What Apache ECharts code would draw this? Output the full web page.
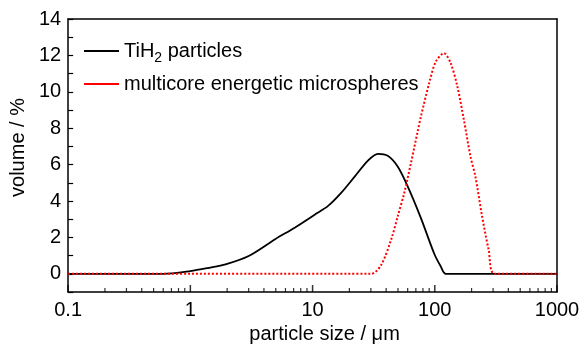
<!DOCTYPE html>
<html>
<head>
<meta charset="utf-8">
<script src="https://cdn.jsdelivr.net/npm/echarts@6/dist/echarts.min.js"></script>
<style>html,body{margin:0;padding:0;background:#fff}#c{width:586px;height:357px}</style>
</head>
<body>
<div id="c"></div>
<script>
// TiH2 particles
const tihSize   = [0.1, 0.6, 1.0, 1.42, 1.94, 3.0, 4.94, 7.2, 10.4, 13.4, 17.2, 22.1, 28.4, 34.2, 41.2, 49.7, 60, 77, 99, 112, 123, 1000];
const tihVolume = [0, 0, 0.15, 0.33, 0.52, 0.98, 1.9, 2.55, 3.25, 3.73, 4.46, 5.34, 6.22, 6.59, 6.48, 5.89, 4.8, 3.06, 1.1, 0.4, 0, 0];
// multicore energetic microspheres
const mcSize   = [0.1, 30.2, 36.4, 43.9, 49.7, 56.2, 63.8, 72.3, 77, 89.9, 102, 119, 135, 153, 173, 196, 215, 244, 276, 310, 1000];
const mcVolume = [0, 0, 0.49, 1.87, 3.15, 4.43, 6.08, 7.8, 8.64, 10.47, 11.66, 12.12, 11.57, 10.29, 8.46, 6.44, 5.34, 3.15, 1.32, 0, 0];

const seriesNames = ['TiH2 particles', 'multicore energetic microspheres'];
const xMajorTicks = [0.1, 1, 10, 100, 1000];
const xMinorTicks = [0.2,0.3,0.4,0.5,0.6,0.7,0.8,0.9, 2,3,4,5,6,7,8,9, 20,30,40,50,60,70,80,90, 200,300,400,500,600,700,800,900];
const yTickLabels = [0, 2, 4, 6, 8, 10, 12, 14];
const yMin = -1, yMax = 14;

const FONT = 'Liberation Sans, Arial, sans-serif';
const pairs = (xs, ys) => xs.map((x, i) => [x, ys[i]]);
const onBottom = xs => xs.map(x => [x, yMin]);
const frameLine = () => ({ show: true, onZero: false, lineStyle: { color: '#000', width: 1.5 } });

const chart = echarts.init(document.getElementById('c'));
chart.setOption({
  animation: false,
  textStyle: { fontFamily: FONT },
  grid: { left: 65, right: 29, top: 19, bottom: 65 },
  legend: {
    orient: 'vertical', left: 79, top: 32, itemWidth: 35, itemHeight: 2, itemGap: 5, icon: 'rect',
    textStyle: {
      fontSize: 20, color: '#000', fontFamily: FONT, lineHeight: 28,
      rich: {
        a: { fontSize: 20, color: '#000', fontFamily: FONT, lineHeight: 28 },
        s: { fontSize: 14, color: '#000', fontFamily: FONT, lineHeight: 28, verticalAlign: 'bottom' }
      }
    },
    formatter: n => n === seriesNames[0] ? '{a|TiH}{s|2}{a| particles}' : '{a|' + n + '}',
    data: [
      { name: seriesNames[0], itemStyle: { color: '#000' } },
      { name: seriesNames[1], itemStyle: { color: '#ff0000' } }
    ]
  },
  xAxis: [{
    type: 'log', logBase: 10, min: 0.1, max: 1000, position: 'bottom',
    name: 'particle size / μm', nameLocation: 'middle', nameGap: 30,
    nameTextStyle: { fontSize: 20, color: '#000', fontFamily: FONT, padding: [0, 0, 0, 24] },
    axisLine: frameLine(),
    axisTick: { show: false },
    axisLabel: { customValues: xMajorTicks, fontSize: 20, color: '#000', fontFamily: FONT, margin: 8,
      formatter: v => String(+(+v).toPrecision(6)) },
    splitLine: { show: false }
  }, {
    type: 'log', logBase: 10, min: 0.1, max: 1000, position: 'top',
    axisLine: frameLine(),
    axisTick: { show: false },
    axisLabel: { show: false },
    splitLine: { show: false }
  }],
  yAxis: [{
    type: 'value', min: yMin, max: yMax, interval: 1, position: 'left',
    name: 'volume / %', nameLocation: 'middle', nameGap: 30,
    nameTextStyle: { fontSize: 20, color: '#000', fontFamily: FONT, padding: [0, 0, 0, 16] },
    axisLine: { show: true, onZero: false, lineStyle: { color: '#000', width: 1.5 } },
    axisTick: { show: true, inside: true, length: 5, lineStyle: { color: '#000', width: 1.2 } },
    axisLabel: { customValues: yTickLabels, fontSize: 20, color: '#000', fontFamily: FONT, margin: 7 },
    splitLine: { show: false }
  }, {
    type: 'value', min: yMin, max: yMax, position: 'right',
    axisLine: { show: true, onZero: false, lineStyle: { color: '#000', width: 1.5 } },
    axisTick: { show: false },
    axisLabel: { show: false },
    splitLine: { show: false }
  }],
  series: [{
    name: seriesNames[0], type: 'line', xAxisIndex: 0, yAxisIndex: 0, symbol: 'none', smooth: 0.3,
    lineStyle: { color: '#000', width: 1.8 }, itemStyle: { color: '#000' },
    data: pairs(tihSize, tihVolume)
  }, {
    name: seriesNames[1], type: 'line', xAxisIndex: 0, yAxisIndex: 0, symbol: 'none', smooth: 0.3,
    lineStyle: { color: '#ff0000', width: 2, type: [2, 2] }, itemStyle: { color: '#ff0000' },
    data: pairs(mcSize, mcVolume)
  }, {
    // inward major ticks on the bottom axis (positioned by the log scale)
    name: 'x major ticks', type: 'scatter', xAxisIndex: 0, yAxisIndex: 0, silent: true, clip: false, z: 5,
    symbol: 'rect', symbolSize: [1.5, 7], symbolOffset: [0, -3.5],
    itemStyle: { color: '#000' }, data: onBottom(xMajorTicks)
  }, {
    // inward minor ticks on the bottom axis
    name: 'x minor ticks', type: 'scatter', xAxisIndex: 0, yAxisIndex: 0, silent: true, clip: false, z: 5,
    symbol: 'rect', symbolSize: [1.2, 4], symbolOffset: [0, -2],
    itemStyle: { color: '#000' }, data: onBottom(xMinorTicks)
  }]
});
</script>
</body>
</html>
